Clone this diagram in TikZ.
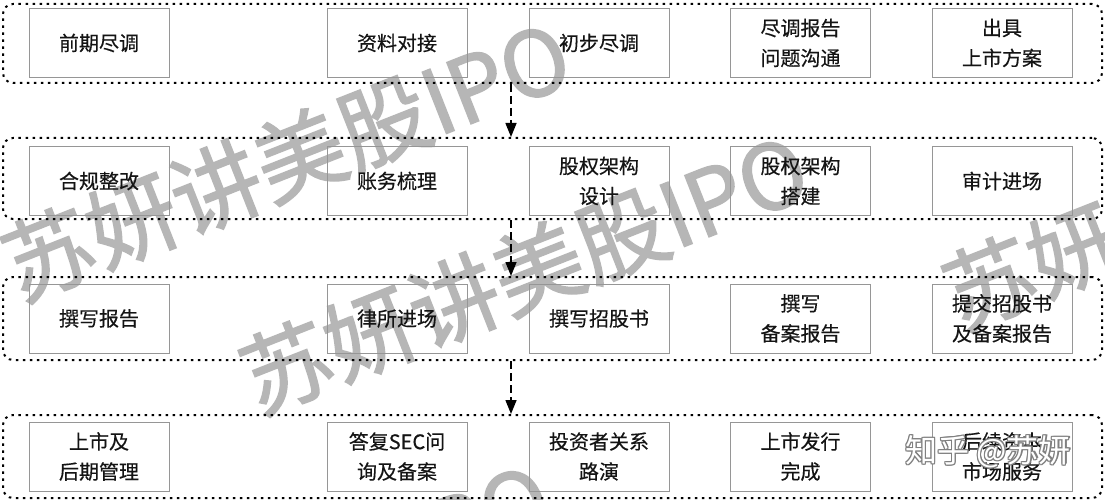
\documentclass[tikz,border=0pt]{standalone}
\usepackage{fontspec}
\setmainfont{Noto Sans CJK SC}
\newfontfamily\wmfont{Noto Sans CJK SC}[FakeBold=1.6]
\newfontfamily\boxfont{Noto Sans CJK SC}[FakeBold=0.4]
\usetikzlibrary{arrows.meta}
\definecolor{wm}{RGB}{182,182,182}
\definecolor{boxgray}{RGB}{150,150,150}
\definecolor{txt}{RGB}{20,20,20}
\begin{document}
\begin{tikzpicture}[x=1pt,y=-1pt,
  stage/.style={draw=boxgray, line width=1pt, minimum width=140pt, minimum height=69pt, inner sep=0pt, align=center, font=\boxfont\fontsize{20}{30}\selectfont, text=txt},
  lane/.style={draw=black, line width=2pt, dash pattern=on 2.5pt off 4.5pt, rounded corners=10pt, minimum width=1099pt, inner sep=0pt},
  arr/.style={line width=1.5pt, dash pattern=on 8pt off 4pt, -{Triangle[length=14pt,width=11pt]}},
  wmk/.style={text=wm, font=\wmfont\fontsize{90}{90}\selectfont, rotate=21.5, inner sep=0pt},
  zh/.style={font=\fontsize{32}{32}\selectfont, inner sep=0pt}
]
\useasboundingbox (0,0) rectangle (1105,500);
\clip (0,0) rectangle (1105,500);
\fill[white] (0,0) rectangle (1105,500);

% background watermarks
\node[wmk] (w1) at (286,160) {苏妍讲美股IPO};
\node[wmk] (w2) at (524,273) {苏妍讲美股IPO};
\node[wmk] (w3) at (1227,189) {苏妍讲美股IPO};
\node[wmk] (w4) at (266,602) {苏妍讲美股IPO};

% lanes
\node[lane, minimum height=79pt] (c1) at (552.5,43.5) {};
\node[lane, minimum height=81pt] (c2) at (552.5,178.5) {};
\node[lane, minimum height=83pt] (c3) at (552.5,318.5) {};
\node[lane, minimum height=83pt] (c4) at (552.5,456.5) {};

% row 1
\node[stage] (a1) at (99,43) {前期尽调};
\node[stage] (a2) at (397,43) {资料对接};
\node[stage] (a3) at (599,43) {初步尽调};
\node[stage] (a4) at (800.5,43) {尽调报告\\问题沟通};
\node[stage] (a5) at (1002,43) {出具\\上市方案};
% row 2
\node[stage] (b1) at (99,181) {合规整改};
\node[stage] (b2) at (397,181) {账务梳理};
\node[stage] (b3) at (599,181) {股权架构\\设计};
\node[stage] (b4) at (800.5,181) {股权架构\\搭建};
\node[stage] (b5) at (1002,181) {审计进场};
% row 3
\node[stage] (d1) at (99,318.5) {撰写报告};
\node[stage] (d2) at (397,318.5) {律所进场};
\node[stage] (d3) at (599,318.5) {撰写招股书};
\node[stage] (d4) at (800.5,318.5) {撰写\\备案报告};
\node[stage] (d5) at (1002,318.5) {提交招股书\\及备案报告};
% row 4
\node[stage] (e1) at (99,456.5) {上市及\\后期管理};
\node[stage] (e2) at (397,456.5) {答复SEC问\\询及备案};
\node[stage] (e3) at (599,456.5) {投资者关系\\路演};
\node[stage] (e4) at (800.5,456.5) {上市发行\\完成};
\node[stage] (e5) at (1002,456.5) {后续资本\\市场服务};

% arrows
\coordinate (ax) at (511,0);
\draw[arr] (c1.south -| ax) -- (c2.north -| ax);
\draw[arr] (c2.south -| ax) -- (c3.north -| ax);
\draw[arr] (c3.south -| ax) -- (c4.north -| ax);

% zhihu watermark
\foreach \dx/\dy [count=\i] in {-1/0,1/0,0/-1,0/1,-0.8/-0.8,0.8/0.8,-0.8/0.8,0.8/-0.8,1.4/1.4}
  \node[zh, text=black!50, xshift=\dx pt, yshift=\dy pt] (zs\i) at (988,452) {知乎 @苏妍};
\node[zh, text=white] (zt) at (988,452) {知乎 @苏妍};
\end{tikzpicture}
\end{document}
